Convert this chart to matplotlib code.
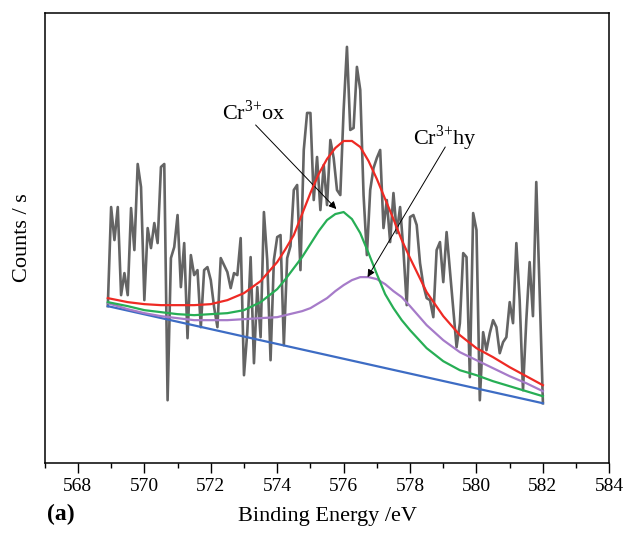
import numpy as np
import matplotlib
matplotlib.use("Agg")
import matplotlib.pyplot as plt
from matplotlib.ticker import MultipleLocator

plt.rcParams['font.family'] = ['Liberation Serif', 'DejaVu Serif']
plt.rcParams['mathtext.fontset'] = 'custom'
plt.rcParams['mathtext.rm'] = 'Liberation Serif'

# measured Cr 2p spectrum, 0.1 eV steps from 568.9 to 582.0 eV
energy = np.round(np.arange(568.9, 582.05, 0.1), 2)
counts = [157, 256, 223, 256, 168, 190, 168, 255, 213, 299,
          276, 163, 235, 215, 240, 220, 296, 299, 63, 205,
          216, 248, 176, 220, 125, 208, 188, 193, 136, 193,
          196, 183, 156, 136, 205, 198, 191, 175, 190, 188,
          225, 88, 131, 206, 100, 176, 126, 251, 203, 103,
          203, 226, 228, 118, 205, 217, 273, 278, 193, 313,
          350, 350, 263, 306, 253, 298, 258, 323, 305, 273,
          268, 353, 416, 333, 335, 396, 373, 268, 208, 273,
          295, 305, 313, 235, 263, 221, 270, 230, 256, 213,
          158, 246, 248, 238, 200, 178, 165, 163, 146, 213,
          221, 181, 231, 193, 156, 116, 140, 210, 206, 86,
          250, 233, 63, 131, 113, 130, 143, 136, 110, 121,
          126, 161, 140, 220, 163, 73, 143, 201, 147, 281,
          173, 60]

# fitted components
fit_energy = [568.9, 569.5, 570.0, 570.5, 571.0, 571.5, 572.0, 572.5, 573.0,
              573.5, 574.0, 574.25, 574.5, 574.75, 575.0, 575.25, 575.5, 575.75,
              576.0, 576.25, 576.5, 576.75, 577.0, 577.25, 577.5, 577.75, 578.0,
              578.5, 579.0, 579.5, 580.0, 580.5, 581.0, 581.5, 582.0]
envelope = [165, 161, 159, 158, 158, 158, 159, 163, 170,
            182, 201, 214, 228, 249, 270, 289, 304, 315,
            322, 322, 316, 302, 284, 264, 244, 223, 205,
            171, 147, 128, 115, 106, 96, 87, 78]
cr_ox = [161, 157, 153, 151, 149, 148, 149, 150, 153,
         161, 174, 184, 195, 206, 219, 232, 243, 249,
         251, 244, 230, 210, 189, 169, 155, 143, 133,
         115, 102, 93, 88, 82, 77, 72, 67]
cr_hy = [160, 154, 150, 147, 145, 143, 143, 143, 144,
         145, 146, 148, 150, 152, 155, 160, 165, 172,
         178, 183, 186, 186, 184, 179, 172, 166, 157,
         138, 123, 111, 103, 95, 87, 80, 72]
bg_energy = [568.9, 582.0]
background = [157, 60]

fig = plt.figure(figsize=(6.26, 5.35), dpi=100)
ax = fig.add_axes([0.0714, 0.134, 0.902, 0.842])

ax.plot(energy, counts, color='#646464', lw=1.9, zorder=2)
ax.plot(bg_energy, background, color='#3d6cc4', lw=1.6, zorder=3)
ax.plot(fit_energy, cr_hy, color='#a67bc9', lw=1.6, zorder=3)
ax.plot(fit_energy, cr_ox, color='#27ae55', lw=1.6, zorder=3)
ax.plot(fit_energy, envelope, color='#ee2a24', lw=1.6, zorder=4)

ax.set_xlim(567, 584)
ax.set_ylim(0, 450)
ax.xaxis.set_major_locator(MultipleLocator(2))
ax.xaxis.set_minor_locator(MultipleLocator(1))
ax.tick_params(axis='x', which='major', direction='out', length=7, width=1, labelsize=14)
ax.tick_params(axis='x', which='minor', direction='out', length=3.5, width=1)
ax.tick_params(axis='y', left=False, labelleft=False)
for s in ax.spines.values():
    s.set_linewidth(1.1)

ax.set_xlabel('Binding Energy /eV', fontsize=16, labelpad=9)
ax.set_ylabel('Counts / s', fontsize=16, labelpad=9)

# peak labels with leader arrows
arrow = dict(arrowstyle='-|>', color='black', lw=0.7, mutation_scale=11,
             shrinkA=0, shrinkB=0)
ax.text(574.25, 350, r'Cr$^{3\mathrm{+}}$ox', fontsize=16, ha='right', va='center')
ax.annotate('', xy=(575.78, 254), xytext=(573.35, 338), arrowprops=arrow)
ax.text(578.1, 325, r'Cr$^{3\mathrm{+}}$hy', fontsize=16, ha='left', va='center')
ax.annotate('', xy=(576.72, 186), xytext=(579.06, 316), arrowprops=arrow)

fig.text(0.075, 0.028, '(a)', fontsize=17, fontweight='bold')

fig.savefig('out.png', dpi=100)
